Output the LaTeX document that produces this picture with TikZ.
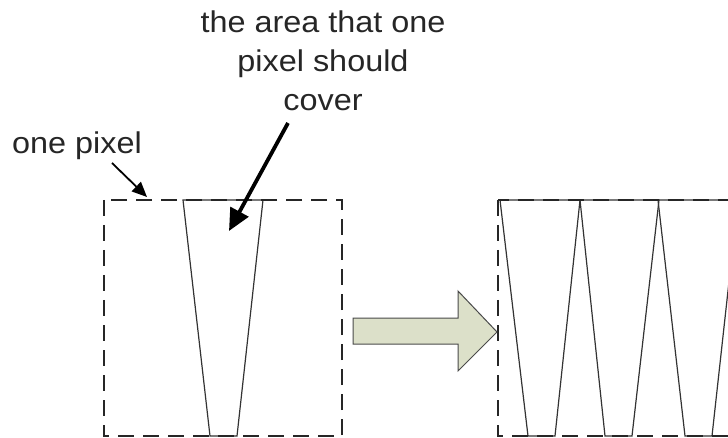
\documentclass[tikz,border=0pt]{standalone}
\usepackage{fontspec}
\setmainfont{Liberation Sans}
\usetikzlibrary{arrows.meta}
\definecolor{arrowfill}{HTML}{DCE0C9}
\definecolor{edgegray}{HTML}{4A4A4A}
\tikzset{
  pixbox/.style={draw=black!85, line width=2.2pt, dash pattern=on 16pt off 9pt},
  trap/.style={draw=black!80, line width=1.2pt},
  lbl/.style={font=\fontsize{30}{38}\selectfont, inner sep=0pt, text=black!85, xscale=1.08},
  thinarrow/.style={draw=black, line width=1.8pt, -{Triangle[length=15pt,width=13pt]}},
  thickarrow/.style={draw=black, line width=3.8pt, -{Triangle[length=22pt,width=20pt]}},
  bigarrow/.style={draw=edgegray, line width=1pt, fill=arrowfill, line join=miter}
}
\begin{document}
\begin{tikzpicture}[x=1pt,y=-1pt]
\useasboundingbox (0,0) rectangle (728,438);
\clip (0,0) rectangle (728,438);
% labels
\node[lbl, anchor=base] (l1) at (323,33) {the area that one};
\node[lbl, anchor=base] (l2) at (323,72) {pixel should};
\node[lbl, anchor=base] (l3) at (323,111) {cover};
\node[lbl, anchor=base west] (onepx) at (12,154) {one pixel};
% left pixel
\coordinate (lbA) at (104,200);
\coordinate (lbB) at (342,436);
\draw[trap] (183,200) -- (263,200) -- (237,436) -- (210,436) -- cycle;
\draw[pixbox] (lbA) rectangle (lbB);
% right pixel
\draw[trap] (500,200) -- (580,200) -- (555,436) -- (528,436) -- cycle;
\draw[trap] (580,200) -- (659,200) -- (632,436) -- (605,436) -- cycle;
\draw[trap] (658,200) -- (738,200) -- (712,436) -- (685,436) -- cycle;
\draw[pixbox] (498,200) rectangle (780,436);
% connectors
\coordinate (pxcorner) at (147,197);
\coordinate (areapt) at (229,231);
\coordinate (onepxstart) at (112,163);
\coordinate (coverstart) at (288,123);
\draw[thinarrow] (onepxstart) -- (pxcorner);
\draw[thickarrow] (coverstart) -- (areapt);
% block arrow
\draw[bigarrow] (353,318) -- (458,318) -- (458,291) -- (497,332) -- (458,371) -- (458,344) -- (353,344) -- cycle;
\end{tikzpicture}
\end{document}
